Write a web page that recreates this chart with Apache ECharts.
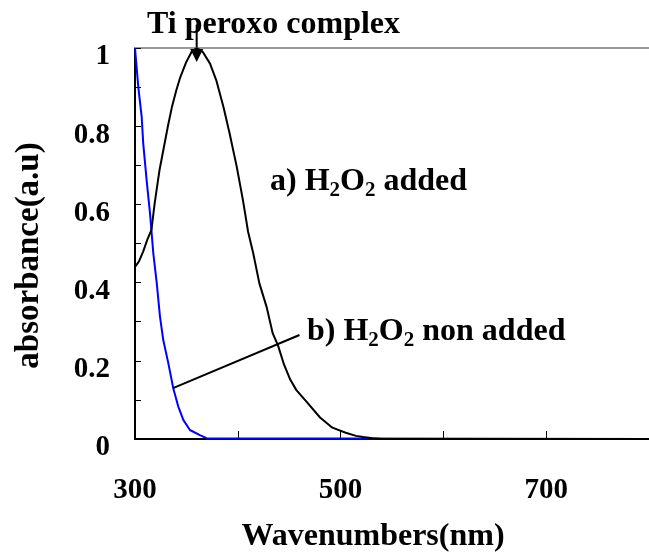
<!DOCTYPE html>
<html>
<head>
<meta charset="utf-8">
<script src="https://cdn.jsdelivr.net/npm/echarts@6/dist/echarts.min.js"></script>
<style>
  html, body { margin: 0; padding: 0; background: #fff; }
  #chart { width: 649px; height: 554px; }
</style>
</head>
<body>
<div id="chart"></div>
<script>
// a) H2O2 added (black)
var nmA = [300, 304, 308, 312, 316, 319, 322, 324, 328, 332, 336, 340, 344, 350, 355, 360, 366, 373, 379, 386, 392, 399, 405, 410, 415, 421, 428, 434, 439, 445, 451, 457, 467, 480, 492, 505, 515, 522, 531, 540, 800]
var absA = [0.44, 0.455, 0.48, 0.51, 0.535, 0.6, 0.655, 0.69, 0.745, 0.8, 0.85, 0.89, 0.925, 0.965, 0.99, 1.0, 0.99, 0.96, 0.918, 0.85, 0.782, 0.696, 0.611, 0.53, 0.475, 0.398, 0.338, 0.27, 0.24, 0.19, 0.152, 0.125, 0.095, 0.055, 0.029, 0.016, 0.008, 0.005, 0.002, 0, 0]

// b) H2O2 non added (blue)
var nmB = [300, 301.6, 303.2, 306.5, 308, 311.3, 314.6, 317.8, 321.1, 324.3, 327.5, 332.4, 337.2, 342.1, 347, 353.4, 363.1, 369.6, 800]
var absB = [1.0, 0.95, 0.9, 0.824, 0.756, 0.662, 0.577, 0.475, 0.4, 0.313, 0.253, 0.194, 0.13, 0.083, 0.049, 0.023, 0.01, 0.002, 0]

var xLabels = [300, 500, 700]
var yLabels = [0, 0.2, 0.4, 0.6, 0.8, 1]

// leader line for b) and arrow to the peak
var leaderFrom = [337, 0.13]
var leaderTo = [460, 0.266]
var arrowFrom = [360, 1.06]
var arrowTo = [360, 0.964]

function pairs(xs, ys) {
  return xs.map(function(x, i) { return [x, ys[i]] })
}

var font = 'Liberation Serif'
var chart = echarts.init(document.getElementById('chart'))

function formula(lead, tail) {
  return {
    text: '{n|' + lead + ' H}{s|2}{n|O}{s|2}{n| ' + tail + '}',
    rich: {
      n: { fontFamily: font, fontWeight: 'bold', fontSize: 32, lineHeight: 38, fill: '#000' },
      s: { fontFamily: font, fontWeight: 'bold', fontSize: 21, lineHeight: 16, verticalAlign: 'bottom', fill: '#000' }
    }
  }
}

var option = {
  animation: false,
  title: {
    text: 'Ti peroxo complex',
    left: 142,
    top: 4,
    textStyle: { fontFamily: font, fontWeight: 'bold', fontSize: 32, color: '#000' }
  },
  grid: { left: 135, right: 0, top: 48, bottom: 115, outerBoundsMode: 'none' },
  xAxis: [
    {
      type: 'value',
      min: 300,
      max: 800,
      interval: 100,
      name: 'Wavenumbers(nm)',
      nameLocation: 'middle',
      nameGap: 82,
      nameTextStyle: { fontFamily: font, fontWeight: 'bold', fontSize: 32, color: '#000', padding: [0, 38, 0, 0] },
      axisLine: { lineStyle: { color: '#000', width: 2 } },
      axisTick: { inside: true, length: 8, lineStyle: { color: '#000', width: 1 } },
      axisLabel: {
        margin: 37,
        fontFamily: font,
        fontWeight: 'bold',
        fontSize: 29,
        color: '#000',
        formatter: function(v) {
          return xLabels.indexOf(v) >= 0 ? String(v) : ''
        }
      },
      splitLine: { show: false }
    },
    {
      type: 'value',
      position: 'top',
      min: 300,
      max: 800,
      axisLine: { lineStyle: { color: '#999', width: 2 } },
      axisTick: { show: false },
      axisLabel: { show: false },
      splitLine: { show: false }
    }
  ],
  yAxis: {
    type: 'value',
    min: 0,
    max: 1,
    interval: 0.1,
    name: 'absorbance(a.u)',
    nameLocation: 'middle',
    nameGap: 89,
    nameTextStyle: { fontFamily: font, fontWeight: 'bold', fontSize: 33, color: '#000', padding: [0, 24, 0, 0] },
    axisLine: { show: true, lineStyle: { color: '#000', width: 2 } },
    axisTick: { show: true, inside: true, length: 6, lineStyle: { color: '#000', width: 1 } },
    axisLabel: {
      margin: 25,
      verticalAlign: 'top',
      lineHeight: 18,
      fontFamily: font,
      fontWeight: 'bold',
      fontSize: 29,
      color: '#000',
      formatter: function(v) {
        var r = Math.round(v * 10) / 10
        return yLabels.indexOf(r) >= 0 ? String(r) : ''
      }
    },
    splitLine: { show: false }
  },
  series: [
    {
      name: 'b',
      type: 'line',
      data: pairs(nmB, absB),
      showSymbol: false,
      lineStyle: { color: '#0000ff', width: 2 },
      silent: true,
      markLine: {
        silent: true,
        symbol: 'none',
        label: { show: false },
        lineStyle: { color: '#000', width: 2, type: 'solid' },
        data: [[{ coord: leaderFrom }, { coord: leaderTo }]]
      }
    },
    {
      name: 'a',
      type: 'line',
      data: pairs(nmA, absA),
      showSymbol: false,
      lineStyle: { color: '#000', width: 2 },
      silent: true
    }
  ],
  graphic: [
    { type: 'text', left: 270, top: 166, style: formula('a)', 'added') },
    { type: 'text', left: 307, top: 316, style: formula('b)', 'non added') }
  ]
}

chart.setOption(option)

// arrow from the title down to the peak, placed through the axes
var p1 = chart.convertToPixel({ xAxisIndex: 0, yAxisIndex: 0 }, arrowFrom)
var p2 = chart.convertToPixel({ xAxisIndex: 0, yAxisIndex: 0 }, arrowTo)
chart.setOption({
  graphic: [
    { type: 'text', left: 270, top: 166, style: formula('a)', 'added') },
    { type: 'text', left: 307, top: 316, style: formula('b)', 'non added') },
    {
      type: 'line',
      shape: { x1: p1[0], y1: p1[1], x2: p2[0], y2: p2[1] - 10 },
      style: { stroke: '#000', lineWidth: 2 }
    },
    {
      type: 'polygon',
      shape: { points: [[p2[0] - 7.5, p2[1] - 15], [p2[0] + 7.5, p2[1] - 15], [p2[0], p2[1]]] },
      style: { fill: '#000' }
    }
  ]
})
</script>
</body>
</html>
